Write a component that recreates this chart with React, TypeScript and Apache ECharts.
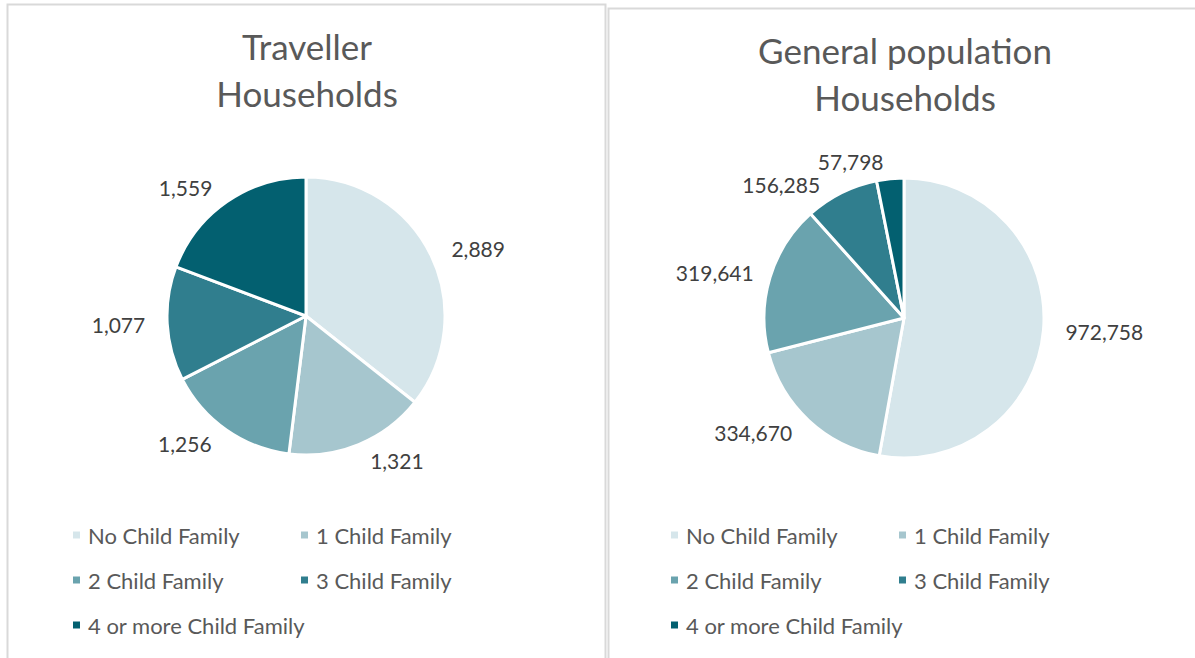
import React, { useEffect, useRef } from "react";
import * as echarts from "echarts";

const categories = [
  "No Child Family",
  "1 Child Family",
  "2 Child Family",
  "3 Child Family",
  "4 or more Child Family",
];
const travellerValues = [2889, 1321, 1256, 1077, 1559];
const generalValues = [972758, 334670, 319641, 156285, 57798];
const colors = ["#D6E6EB", "#A6C6CE", "#6AA3AE", "#307E8E", "#036070"];

const FONT = "Lato, 'Noto Sans', sans-serif";

const legendSlots = [
  { dx: 0, dy: 0 },
  { dx: 228, dy: 0 },
  { dx: 0, dy: 45 },
  { dx: 228, dy: 45 },
  { dx: 0, dy: 90 },
];

function makeLegends(x0: number, y0: number) {
  return categories.map((name, i) => ({
    data: [name],
    left: x0 + legendSlots[i].dx,
    top: y0 + legendSlots[i].dy,
    icon: "rect",
    itemWidth: 9,
    itemHeight: 9,
    itemGap: 0,
    padding: 0,
    selectedMode: false,
    textStyle: {
      color: "#595959",
      fontSize: 22,
      fontFamily: FONT,
      padding: [0, 0, 0, 2],
    },
  }));
}

function makePie(values: number[], center: number[], radius: number) {
  return {
    type: "pie",
    center,
    radius,
    startAngle: 90,
    clockwise: true,
    silent: true,
    data: categories.map((name, i) => ({
      name,
      value: values[i],
      itemStyle: { color: colors[i] },
    })),
    itemStyle: { borderColor: "#ffffff", borderWidth: 3 },
    label: {
      show: true,
      position: "outside",
      formatter: (p: any) => Number(p.value).toLocaleString("en-US"),
      color: "#404040",
      fontSize: 21,
      fontFamily: FONT,
    },
    labelLine: { show: false, length: 17, length2: 0 },
  };
}

export default function App() {
  const ref = useRef<HTMLDivElement>(null);
  useEffect(() => {
    if (!ref.current) return;
    const chart = echarts.init(ref.current, null, { renderer: "svg" });
    chart.setOption({
      animation: false,
      backgroundColor: "#ffffff",
      graphic: [
        {
          type: "rect",
          shape: { x: 7.5, y: 4.5, width: 598, height: 680 },
          style: { fill: "none", stroke: "#D9D9D9", lineWidth: 2 },
          silent: true,
        },
        {
          type: "rect",
          shape: { x: 608.5, y: 8.5, width: 620, height: 680 },
          style: { fill: "none", stroke: "#D9D9D9", lineWidth: 2 },
          silent: true,
        },
      ],
      title: [
        {
          text: "Traveller\nHouseholds",
          left: 302,
          top: 17,
          textAlign: "center",
          textStyle: {
            color: "#595959",
            fontSize: 35,
            fontWeight: "normal",
            fontFamily: FONT,
            lineHeight: 47,
          },
        },
        {
          text: "General population\nHouseholds",
          left: 900,
          top: 21,
          textAlign: "center",
          textStyle: {
            color: "#595959",
            fontSize: 35,
            fontWeight: "normal",
            fontFamily: FONT,
            lineHeight: 47,
          },
        },
      ],
      legend: [...makeLegends(71, 524), ...makeLegends(669, 524)],
      series: [
        makePie(travellerValues, [306, 316], 139),
        makePie(generalValues, [904, 318], 140),
      ],
    });
    return () => chart.dispose();
  }, []);
  return (
    <div
      ref={ref}
      style={{ position: "fixed", left: 0, top: 0, width: 1195, height: 658 }}
    />
  );
}
